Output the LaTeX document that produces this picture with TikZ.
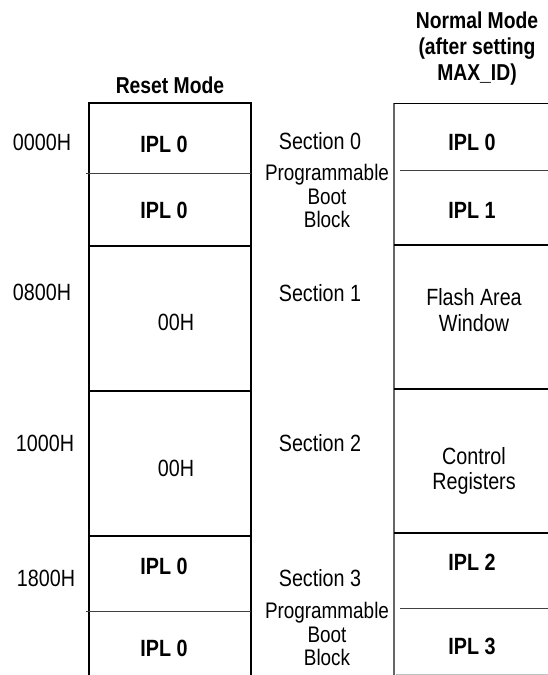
\documentclass[tikz,border=0pt]{standalone}
\usepackage{fontspec}
\setmainfont{Liberation Sans}[FakeStretch=0.84]
\usetikzlibrary{positioning}

\tikzset{
  txt/.style={font=\fontsize{23.5}{25.5}\selectfont, align=center, inner sep=0pt},
  hd/.style={txt, font=\fontsize{23}{26}\selectfont\bfseries},
  ipl/.style={txt, font=\fontsize{23.5}{25}\selectfont\bfseries},
  pbb/.style={txt, font=\fontsize{22.5}{23.5}\selectfont},
  edge/.style={line width=1.2pt, black},
  edgegray/.style={line width=1.8pt, black!60},
  bound/.style={line width=2pt, black},
  split/.style={line width=1pt, black!75},
}

\begin{document}
\begin{tikzpicture}[x=1pt, y=-1pt]
	\useasboundingbox (0,0) rectangle (548,675);

	% reset mode column
	\coordinate (L0) at (89,103);
	\coordinate (L1) at (251,103);
	\draw[edge] (89,675) -- (L0) -- (L1) -- (251,675);
	\draw[split] (86,173) -- (251,173);
	\foreach \y in {246,391,536}
		\draw[bound] (89,\y) -- (251,\y);
	\draw[split] (86,611) -- (251,611);

	% normal mode column
	\coordinate (R0) at (394,103);
	\draw[edgegray] (394,675) -- (R0);
	\draw[edge, line width=1pt] (R0) -- (548,103);
	\draw[split] (400,170) -- (548,170);
	\foreach \y in {245,389,533}
		\draw[bound] (394,\y) -- (548,\y);
	\draw[split] (400,608) -- (548,608);
	\draw[black!25, line width=0.8pt] (396,674) -- (548,674);

	% headings
	\node[hd] (reset) at (170,85) {Reset Mode};
	\node[hd] (normal) at (477,49) {Normal Mode\\(after setting\\MAX\_ID)};

	% addresses
	\node[txt] (a0) at (42,142) {0000H};
	\node[txt] (a1) at (42,292) {0800H};
	\node[txt] (a2) at (45,443) {1000H};
	\node[txt] (a3) at (46,578) {1800H};

	% reset mode contents
	\node[ipl] (r0) at (164,144) {IPL 0};
	\node[ipl] (r1) at (164,210) {IPL 0};
	\node[txt] (r2) at (176,322) {00H};
	\node[txt] (r3) at (176,468) {00H};
	\node[ipl] (r4) at (164,566) {IPL 0};
	\node[ipl] (r5) at (164,648) {IPL 0};

	% sections
	\node[txt] (s0) at (320,141) {Section 0};
	\node[pbb] (b0) at (327,196) {Programmable\\Boot\\Block};
	\node[txt] (s1) at (320,293) {Section 1};
	\node[txt] (s2) at (320,443) {Section 2};
	\node[txt] (s3) at (320,578) {Section 3};
	\node[pbb] (b3) at (327,634) {Programmable\\Boot\\Block};

	% normal mode contents
	\node[ipl] (n0) at (472,142) {IPL 0};
	\node[ipl] (n1) at (472,210) {IPL 1};
	\node[txt] (n2) at (474,310) {Flash Area\\Window};
	\node[txt] (n3) at (474,471) {Control\\Registers};
	\node[ipl] (n4) at (472,562) {IPL 2};
	\node[ipl] (n5) at (472,646) {IPL 3};
\end{tikzpicture}
\end{document}
